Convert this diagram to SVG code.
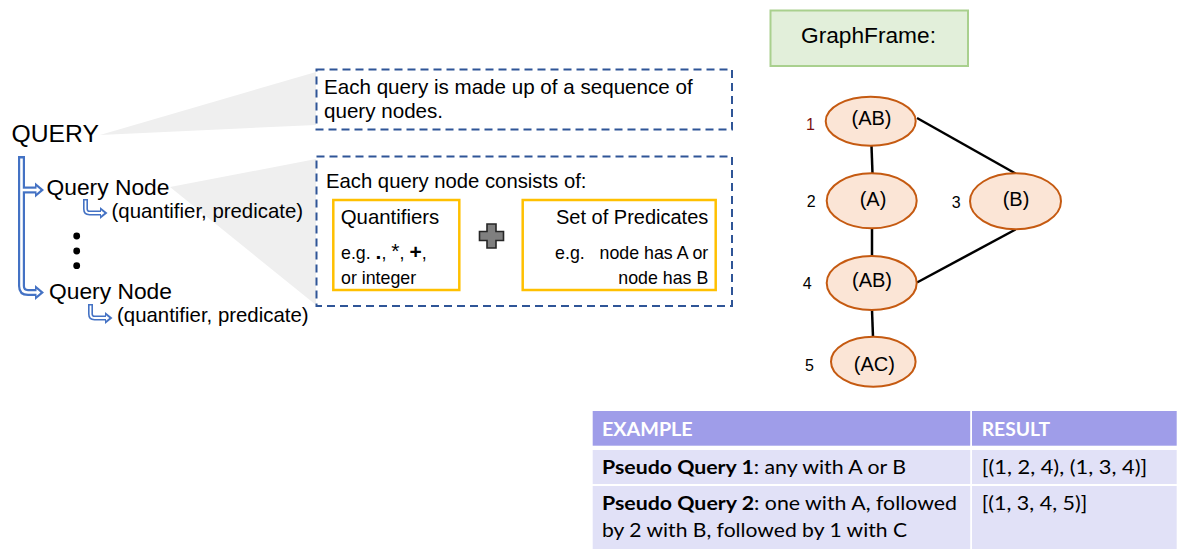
<svg xmlns="http://www.w3.org/2000/svg" width="1181" height="558" viewBox="0 0 1181 558">
<style>
text{font-family:"Liberation Sans",Arial,sans-serif;fill:#000}
.dash{fill:none;stroke:#2F5597;stroke-width:2;stroke-dasharray:8 5}
.ybox{fill:#fff;stroke:#FFC000;stroke-width:2.5}
.wedge{fill:#EFEFEF}
.bo{fill:none;stroke:#4472C4;stroke-width:7}
.bi{fill:none;stroke:#fff;stroke-width:2.6}
.so{fill:none;stroke:#4472C4;stroke-width:5}
.si{fill:none;stroke:#fff;stroke-width:1.8}
.ah{fill:#4472C4}
.aw{fill:#fff}
.gn{fill:#FBE5D6;stroke:#C55A11;stroke-width:2}
.edge{stroke:#000;stroke-width:2.5;fill:none}
.tb{font-family:Lato,"Open Sans",sans-serif}
.hd{fill:#9F9DE9}
.rw{fill:#E1E1F7}
</style>

<!-- wedges -->
<g id="wedges">
<polygon class="wedge" points="100,135 316,72 316,125"/>
<polygon class="wedge" points="170,187 316,159 316,305"/>
</g>

<!-- left tree -->
<g id="query">
<text x="11.5" y="141.5" font-size="24.7">QUERY</text>
</g>
<g id="tree-arrows">
<path class="bo" d="M21.5,156 V286 Q21.5,292.5 28,292.5 H37"/>
<path class="bo" d="M21.5,190 H37"/>
<polygon class="ah" points="35,182.5 44,190 35,197.5"/>
<polygon class="ah" points="35,285 44,292.5 35,300"/>
<path class="bi" d="M21.5,158.5 V286 Q21.5,292.5 28,292.5 H38"/>
<path class="bi" d="M21.5,190 H38"/>
<polygon class="aw" points="36.5,186.5 40.5,190 36.5,193.5"/>
<polygon class="aw" points="36.5,289 40.5,292.5 36.5,296"/>

<path class="so" d="M85.5,199 V209 Q85.5,213 89.5,213 H101"/>
<polygon class="ah" points="100,207 107.5,213 100,219"/>
<path class="si" d="M85.5,200.5 V209 Q85.5,213 89.5,213 H102"/>
<polygon class="aw" points="101,210.2 104.3,213 101,215.8"/>

<path class="so" d="M90.5,304 V314 Q90.5,318 94.5,318 H106"/>
<polygon class="ah" points="105,312 112.5,318 105,324"/>
<path class="si" d="M90.5,305.5 V314 Q90.5,318 94.5,318 H107"/>
<polygon class="aw" points="106,315.2 109.3,318 106,320.8"/>
</g>
<g id="qnode1">
<text x="46.5" y="195" font-size="22.8">Query Node</text>
<text x="111.5" y="218.3" font-size="20.4">(quantifier, predicate)</text>
</g>
<g id="dots">
<circle cx="76.7" cy="236" r="3.4"/>
<circle cx="76.7" cy="251" r="3.4"/>
<circle cx="76.7" cy="265.7" r="3.4"/>
</g>
<g id="qnode2">
<text x="49" y="299.3" font-size="22.8">Query Node</text>
<text x="117" y="321.7" font-size="20.4">(quantifier, predicate)</text>
</g>

<!-- box 1 -->
<g id="box1">
<rect class="dash" x="316.5" y="69.5" width="415.5" height="60"/>
<text x="324" y="94.3" font-size="20.6">Each query is made up of a sequence of</text>
<text x="324" y="118.3" font-size="20.6">query nodes.</text>
</g>

<!-- box 2 -->
<g id="box2">
<rect class="dash" x="316.5" y="156.5" width="415.5" height="149.5"/>
<text x="326" y="188.3" font-size="20.3">Each query node consists of:</text>
</g>
<g id="quantifiers">
<rect class="ybox" x="333.3" y="200" width="126" height="90"/>
<text x="340.7" y="224" font-size="20.4">Quantifiers</text>
<text x="341" y="259.3" font-size="17.8">e.g. <tspan font-weight="bold" font-size="21">.</tspan>, <tspan font-size="21" dy="-1">*</tspan><tspan dy="1">, </tspan><tspan font-weight="bold" font-size="21">+</tspan>,</text>
<text x="341" y="284" font-size="17.8">or integer</text>
</g>
<g id="plus">
<path d="M487,224 h9 v7.5 h7.5 v9 h-7.5 v7.5 h-9 v-7.5 h-7.5 v-9 h7.5 z" fill="#7F7F7F" stroke="#262626" stroke-width="1.6"/>
</g>
<g id="predicates">
<rect class="ybox" x="522.7" y="200" width="193" height="90"/>
<text x="708.3" y="224" font-size="20" text-anchor="end">Set of Predicates</text>
<text x="708.3" y="259.3" font-size="17.8" text-anchor="end" xml:space="preserve">e.g.   node has A or</text>
<text x="708.3" y="284" font-size="17.8" text-anchor="end">node has B</text>
</g>

<!-- GraphFrame -->
<g id="graphframe">
<rect x="770.5" y="10.5" width="197.5" height="55.5" fill="#E2EFDA" stroke="#A9D08E" stroke-width="2"/>
<text x="868.5" y="42.7" font-size="22.7" text-anchor="middle">GraphFrame:</text>
</g>

<g id="edges">
<line class="edge" x1="871.5" y1="146" x2="872.5" y2="173.5"/>
<line class="edge" x1="917" y1="118" x2="1015.5" y2="173.5"/>
<line class="edge" x1="872" y1="228.5" x2="872" y2="256"/>
<line class="edge" x1="1015.5" y1="229.5" x2="917" y2="282.5"/>
<line class="edge" x1="872" y1="310" x2="873" y2="337"/>
</g>

<g id="n1">
<ellipse class="gn" cx="870.7" cy="121.2" rx="45" ry="24.5"/>
<text x="871.5" y="125" font-size="20" text-anchor="middle">(AB)</text>
<text x="806" y="130" font-size="16" style="fill:#7B1010">1</text>
</g>
<g id="n2">
<ellipse class="gn" cx="871.7" cy="200.8" rx="45" ry="27.5"/>
<text x="873" y="205.7" font-size="20" text-anchor="middle">(A)</text>
<text x="806.7" y="206.7" font-size="16">2</text>
</g>
<g id="n3">
<ellipse class="gn" cx="1015.5" cy="201.3" rx="45.5" ry="28"/>
<text x="1016" y="205.7" font-size="20" text-anchor="middle">(B)</text>
<text x="951.7" y="208.3" font-size="16">3</text>
</g>
<g id="n4">
<ellipse class="gn" cx="871.7" cy="283" rx="45" ry="27"/>
<text x="872" y="287.3" font-size="20" text-anchor="middle">(AB)</text>
<text x="802.7" y="289.3" font-size="16">4</text>
</g>
<g id="n5">
<ellipse class="gn" cx="873.3" cy="361.7" rx="42.3" ry="25"/>
<text x="874.3" y="370.7" font-size="20" text-anchor="middle">(AC)</text>
<text x="805" y="370.7" font-size="16">5</text>
</g>

<!-- table -->
<g id="table">
<rect class="hd" x="592.7" y="411" width="377.5" height="34.7"/>
<rect class="hd" x="972" y="411" width="204.7" height="34.7"/>
<rect class="rw" x="592.7" y="450" width="377.5" height="34"/>
<rect class="rw" x="972" y="450" width="204.7" height="34"/>
<rect class="rw" x="592.7" y="486" width="377.5" height="63"/>
<rect class="rw" x="972" y="486" width="204.7" height="63"/>
<text class="tb" x="602" y="436" font-size="19.5" font-weight="bold" style="fill:#fff" textLength="90.7" lengthAdjust="spacingAndGlyphs">EXAMPLE</text>
<text class="tb" x="981.7" y="436" font-size="19.5" font-weight="bold" style="fill:#fff" textLength="68.3" lengthAdjust="spacingAndGlyphs">RESULT</text>
<text class="tb" x="602" y="474" font-size="19.5" textLength="304" lengthAdjust="spacingAndGlyphs"><tspan font-weight="bold">Pseudo Query 1</tspan>: any with A or B</text>
<text class="tb" x="981.7" y="474" font-size="19.5" textLength="165.6" lengthAdjust="spacingAndGlyphs">[(1, 2, 4), (1, 3, 4)]</text>
<text class="tb" x="602" y="510" font-size="19.5" textLength="355" lengthAdjust="spacingAndGlyphs"><tspan font-weight="bold">Pseudo Query 2</tspan>: one with A, followed</text>
<text class="tb" x="602" y="537" font-size="19.5" textLength="305" lengthAdjust="spacingAndGlyphs">by 2 with B, followed by 1 with C</text>
<text class="tb" x="981.7" y="510" font-size="19.5" textLength="105.6" lengthAdjust="spacingAndGlyphs">[(1, 3, 4, 5)]</text>
</g>
</svg>
